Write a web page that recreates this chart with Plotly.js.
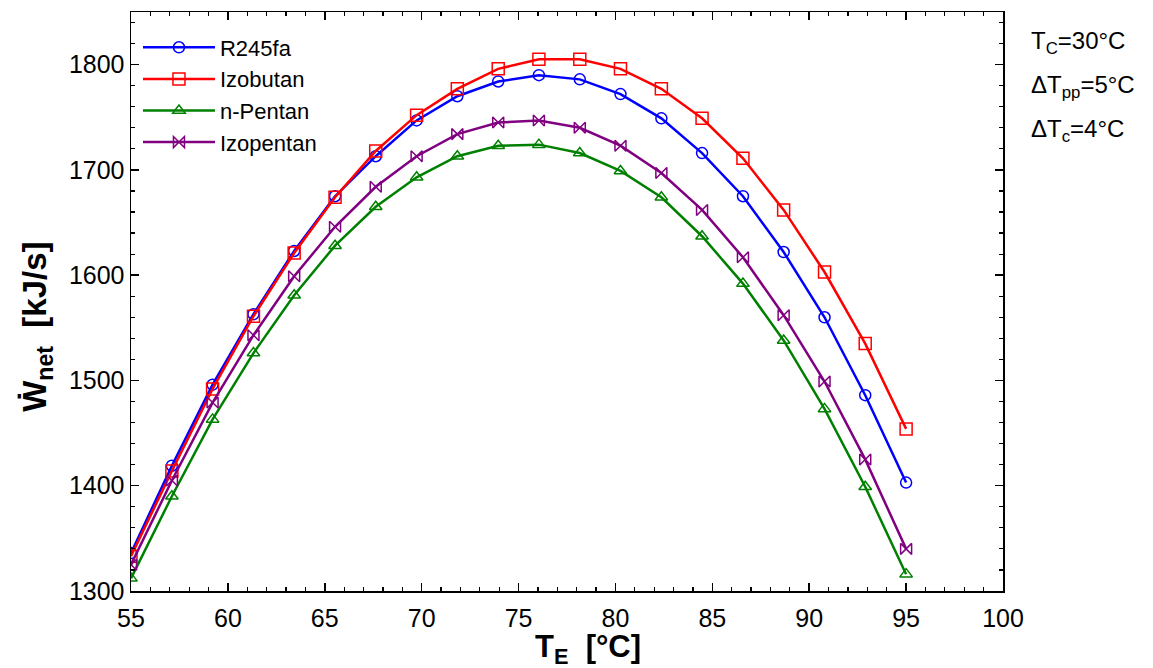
<!DOCTYPE html>
<html><head><meta charset="utf-8">
<script src="https://cdn.plot.ly/plotly-3.0.1.min.js"></script>
<style>html,body{margin:0;padding:0;background:#fff}#c{width:1153px;height:668px}</style>
</head><body><div id="c"></div>
<script>
const TE = [55, 57.11, 59.21, 61.32, 63.42, 65.53, 67.63, 69.74, 71.84, 73.95, 76.05, 78.16, 80.26, 82.37, 84.47, 86.58, 88.68, 90.79, 92.89, 95];
const R245fa = [1336, 1419, 1496, 1563, 1623, 1675, 1713, 1747, 1770, 1784, 1790, 1786, 1772, 1749, 1716, 1675, 1622, 1560, 1486, 1403];
const Izobutan = [1333, 1414, 1492, 1561, 1621, 1674, 1718, 1752, 1777, 1796, 1805, 1805, 1796, 1777, 1749, 1711, 1662, 1603, 1535, 1454];
const nPentan = [1312, 1390, 1463, 1526, 1581, 1628, 1665, 1693, 1713, 1723, 1724, 1716, 1699, 1674, 1637, 1592, 1538, 1473, 1399, 1316];
const Izopentan = [1325, 1405, 1479, 1543, 1599, 1646, 1684, 1713, 1734, 1745, 1747, 1740, 1723, 1697, 1662, 1617, 1562, 1499, 1425, 1340];
const names = ['R245fa', 'Izobutan', 'n-Pentan', 'Izopentan'];
const colors = ['#0000ff', '#ff0000', '#008000', '#800080'];
const symbols = ['circle-open', 'square-open', 'triangle-up-open', 'bowtie-open'];
const series = [R245fa, Izobutan, nPentan, Izopentan];
const xTitle = '<b>T<sub>E</sub>  [°C]</b>';
const yTitle = '<b>Ẇ<sub>net</sub>  [kJ/s]</b>';
const notes = ['T<sub>C</sub>=30°C', 'ΔT<sub>pp</sub>=5°C', 'ΔT<sub>c</sub>=4°C'];

const traces = series.map((ys, i) => ({
  x: TE, y: ys, name: names[i], type: 'scatter', mode: 'lines+markers',
  line: {color: colors[i], width: 2.5},
  marker: {symbol: symbols[i], size: i === 1 ? 12 : 11, color: colors[i], line: {width: 1.5, color: colors[i]}}
}));

const fam = 'Liberation Sans, Arial, sans-serif';
const axisCommon = {
  showgrid: false, zeroline: false, showline: true, linecolor: '#000', linewidth: 1.5,
  mirror: 'allticks', ticks: 'inside', ticklen: 8, tickwidth: 1.5, tickcolor: '#000',
  tickfont: {family: fam, size: 25, color: '#000'}
};
const noteY = [0.948, 0.872, 0.796];
const layout = {
  width: 1153, height: 668, paper_bgcolor: '#fff', plot_bgcolor: '#fff',
  margin: {l: 131, r: 150, t: 12, b: 77},
  showlegend: true,
  legend: {x: 0.008, y: 0.975, xanchor: 'left', yanchor: 'top', bgcolor: 'rgba(0,0,0,0)',
    font: {family: fam, size: 22, color: '#000'}, tracegroupgap: 0, itemwidth: 72},
  xaxis: Object.assign({}, axisCommon, {
    range: [55, 100], dtick: 5, tick0: 55, ticklabelstandoff: 4,
    minor: {dtick: 1, ticks: 'inside', ticklen: 4, tickwidth: 1.2, tickcolor: '#000'}
  }),
  yaxis: Object.assign({}, axisCommon, {
    range: [1300, 1850], dtick: 100, tick0: 1300,
    minor: {dtick: 20, ticks: 'inside', ticklen: 4, tickwidth: 1.2, tickcolor: '#000'}
  }),
  annotations: [
    {text: xTitle, xref: 'paper', yref: 'paper', x: 0.524, y: -0.1, xanchor: 'center', yanchor: 'middle', showarrow: false, font: {family: fam, size: 31, color: '#000'}},
    {text: yTitle, xref: 'paper', yref: 'paper', x: -0.108, y: 0.456, xanchor: 'center', yanchor: 'middle', textangle: -90, showarrow: false, font: {family: fam, size: 33, color: '#000'}}
  ].concat(notes.map((t, i) => (
    {text: t, xref: 'paper', yref: 'paper', x: 1.03, y: noteY[i], xanchor: 'left', yanchor: 'middle', showarrow: false, font: {family: fam, size: 24, color: '#000'}}
  )))
};
Plotly.newPlot('c', traces, layout, {displayModeBar: false, staticPlot: true});
</script></body></html>
